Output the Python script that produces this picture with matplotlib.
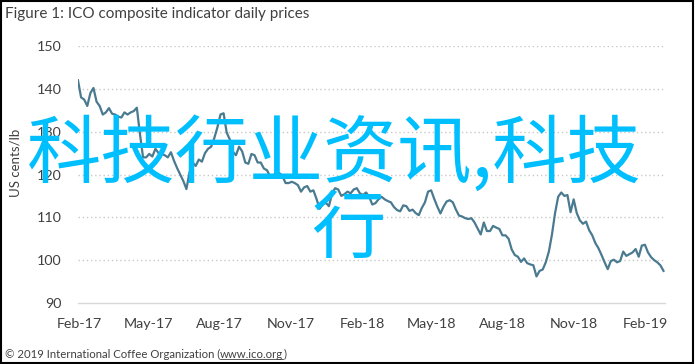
import numpy as np
import pandas as pd
import matplotlib
matplotlib.use('Agg')
import matplotlib.pyplot as plt
import matplotlib.dates as mdates
from matplotlib.patches import Rectangle
from matplotlib.lines import Line2D

# ICO composite indicator, every 4 days from 30 Jan 2017
start = '2017-01-30'
prices = [
    142, 138, 137.5, 136, 139, 140.2, 137, 136, 134, 134.5,
    135.5, 134.2, 134, 133.5, 133.3, 134.5, 134, 134.5, 134.8, 135.6,
    129.5, 124, 124, 124.8, 124.2, 126, 125, 124.8, 124.5, 124,
    125.2, 123.2, 121.5, 120, 118.5, 116.6, 120.5, 122.8, 122, 123.5,
    123, 125, 126, 126.5, 128.5, 131, 134, 134.3, 129.8, 128.2,
    125.3, 124.5, 126.5, 125.4, 122.8, 122.5, 124.8, 124.5, 122.8, 122.8,
    121.4, 121, 119.6, 119.8, 120.4, 120.3, 119.7, 118, 118, 118.3,
    118, 117.5, 116, 117, 117.3, 116, 116.3, 114.3, 112, 113,
    113.4, 112.6, 115.5, 116.8, 116.5, 115, 115.4, 116, 115.6, 116.5,
    116.8, 115.6, 115.2, 115.8, 114.8, 113, 113.3, 114.2, 114.8, 114.2,
    113.8, 113.5, 112.4, 111.7, 111.4, 112.8, 112.6, 111.5, 111.8, 111,
    110.5, 112.2, 113.5, 116, 116.3, 114.3, 112.5, 110.9, 112.5, 113.7,
    114, 113.5, 111.8, 110.4, 110.2, 109.8, 109.6, 109.8, 108.8, 107.4,
    106, 108.8, 106.8, 106.8, 108, 107.6, 107.3, 105.8, 105.8, 105,
    102.5, 101.2, 100.8, 99.6, 100.4, 99.3, 99, 98.8, 96.2, 97.5,
    97.8, 99.5, 102, 106, 111, 114.8, 115.8, 115, 115.2, 111.2,
    114.2, 111, 109.3, 108.5, 109, 107, 105.8, 104, 102.8, 101.2,
    99.5, 97.9, 99.8, 100.1, 99.5, 99.8, 102, 101, 101.4, 101.8,
    102.6, 100.8, 103.4, 103.6, 101.8, 100.7, 100, 99.5, 98.8, 97.5,
]
dates = pd.date_range(start, periods=len(prices), freq='4D')

tick_dates = pd.date_range('2017-02-01', '2019-02-01', freq='3MS')
tick_labels = [d.strftime('%b-%y') for d in tick_dates]
y_ticks = [90, 100, 110, 120, 130, 140, 150]

text_col = '#404040'
plt.rcParams['font.family'] = ['Lato', 'DejaVu Sans']

fig = plt.figure(figsize=(6.95, 3.64), dpi=100)
ax = fig.add_axes([0.1122, 0.1676, 0.8447, 0.706])

ax.plot(dates, prices, color='#4A7A90', lw=1.6, zorder=3)

ax.set_ylim(90, 150)
ax.set_yticks(y_ticks)
ax.set_xlim(mdates.date2num(pd.Timestamp('2017-01-30')),
            mdates.date2num(pd.Timestamp('2019-02-27')))
ax.set_xticks(tick_dates)
ax.set_xticklabels(tick_labels)

for v in y_ticks[1:]:
    ax.axhline(v, color='#C8C8C8', lw=1.0, ls=(0, (1, 2)), zorder=1)

for s in ['top', 'right', 'left']:
    ax.spines[s].set_visible(False)
ax.spines['bottom'].set_color('#D9D9D9')
ax.spines['bottom'].set_linewidth(1.0)
ax.tick_params(length=0, labelsize=10.3, colors=text_col)
ax.tick_params(axis='x', pad=11)
ax.tick_params(axis='y', pad=12)

fig.text(15 / 695, 1 - 163 / 364, 'US cents/lb', rotation=90, ha='center',
         va='center', fontsize=9.5, color=text_col)

fig.text(5 / 695, 1 - 14 / 364, 'Figure 1: ICO composite indicator daily prices',
         ha='left', va='center', fontsize=11, color=text_col)

# footer with underlined link
fy = 1 - 354 / 364
t1 = fig.text(5 / 695, fy, '\u00a9 2019 International Coffee Organization (',
              ha='left', va='center', fontsize=8.2, color=text_col)
fig.canvas.draw()
r = fig.canvas.get_renderer()
bb = t1.get_window_extent(r)
t2 = fig.text(bb.x1 / 695, fy, 'www.ico.org', ha='left', va='center',
              fontsize=8.2, color=text_col)
bb2 = t2.get_window_extent(r)
fig.text(bb2.x1 / 695, fy, ')', ha='left', va='center', fontsize=8.2,
         color=text_col)
fig.add_artist(Line2D([bb2.x0 / 695, bb2.x1 / 695],
                      [(bb2.y0 + 0.5) / 364] * 2, color=text_col, lw=0.6))

# watermark
cjk = ['Noto Sans CJK SC', 'DejaVu Sans']
fig.text(334 / 695, 1 - 155 / 364, '科技行业资讯,科技', ha='center',
         va='center', fontsize=53.5, color='#00BFFF', family=cjk, zorder=10)
fig.text(348 / 695, 1 - 230 / 364, '行', ha='center', va='center',
         fontsize=53.5, color='#00BFFF', family=cjk, zorder=10)

fig.add_artist(Rectangle((0.001, 0.002), 0.996, 0.996, transform=fig.transFigure,
                         fill=False, edgecolor='black', lw=1.5))

fig.savefig('out.png', dpi=100)
